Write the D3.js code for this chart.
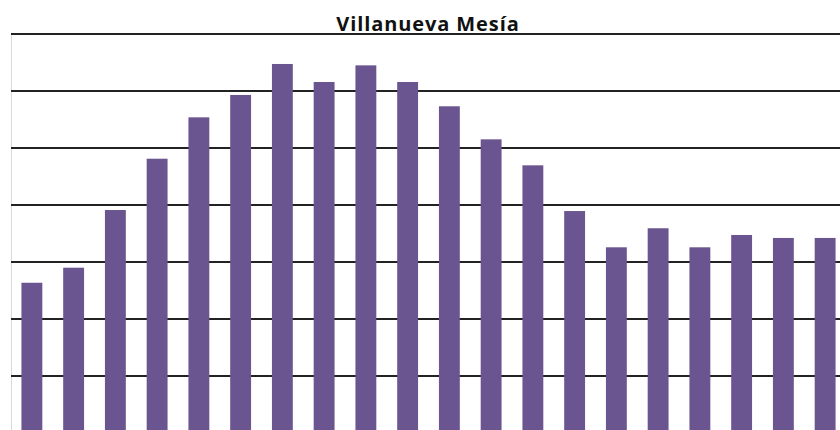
<!DOCTYPE html>
<html>
<head>
<meta charset="utf-8">
<script src="https://cdn.jsdelivr.net/npm/d3@7"></script>
<style>
  body { margin: 0; background: #fff; }
  svg { display: block; }
</style>
</head>
<body>
<div id="chart"></div>
<script>
// census years (labels are cut off in the picture, kept for the band scale)
var years = ["1842", "1857", "1860", "1877", "1887", "1897", "1900", "1910", "1920", "1930",
             "1940", "1950", "1960", "1970", "1981", "1991", "2001", "2006", "2009", "2011"];
var population = [1318, 1450, 1956, 2406, 2769, 2965, 3237, 3079, 3225, 3079,
                  2866, 2576, 2348, 1947, 1629, 1796, 1629, 1737, 1711, 1711];
var yTicks = [500, 1000, 1500, 2000, 2500, 3000, 3500];

var width = 840
var height = 430
var margin = {top: 34, left: 11}
var step = 41.75
var baseY = 433

var svg = d3.select("#chart")
  .append("svg")
  .attr("width", width)
  .attr("height", height);

var x = d3.scaleBand()
  .domain(years)
  .range([margin.left, margin.left + step * years.length])
  .paddingInner(0.5)
  .paddingOuter(0.25);

var y = d3.scaleLinear()
  .domain([0, 3500])
  .range([baseY, margin.top]);

// light vertical axis line on the left
svg.append("line")
  .attr("x1", margin.left + 0.5)
  .attr("x2", margin.left + 0.5)
  .attr("y1", margin.top)
  .attr("y2", height)
  .attr("stroke", "#d9d9d9")
  .attr("stroke-width", 1);

// horizontal gridlines
svg.append("g")
  .selectAll("line")
  .data(yTicks)
  .enter().append("line")
    .attr("x1", margin.left)
    .attr("x2", width)
    .attr("y1", function(d) { return y(d); })
    .attr("y2", function(d) { return y(d); })
    .attr("stroke", "#222")
    .attr("stroke-width", 2);

svg.append("g")
  .selectAll("rect")
  .data(population)
  .enter().append("rect")
    .attr("x", function(d, i) { return x(years[i]); })
    .attr("y", function(d) { return y(d); })
    .attr("width", x.bandwidth())
    .attr("height", function(d) { return baseY - y(d); })
    .attr("fill", "#6b5590");

svg.append("text")
  .attr("x", 428)
  .attr("y", 31)
  .attr("text-anchor", "middle")
  .attr("font-family", "'Open Sans', 'Liberation Sans', sans-serif")
  .attr("font-weight", "bold")
  .attr("font-size", 20)
  .attr("letter-spacing", 0.9)
  .attr("fill", "#111")
  .text("Villanueva Mesía");
</script>
</body>
</html>
